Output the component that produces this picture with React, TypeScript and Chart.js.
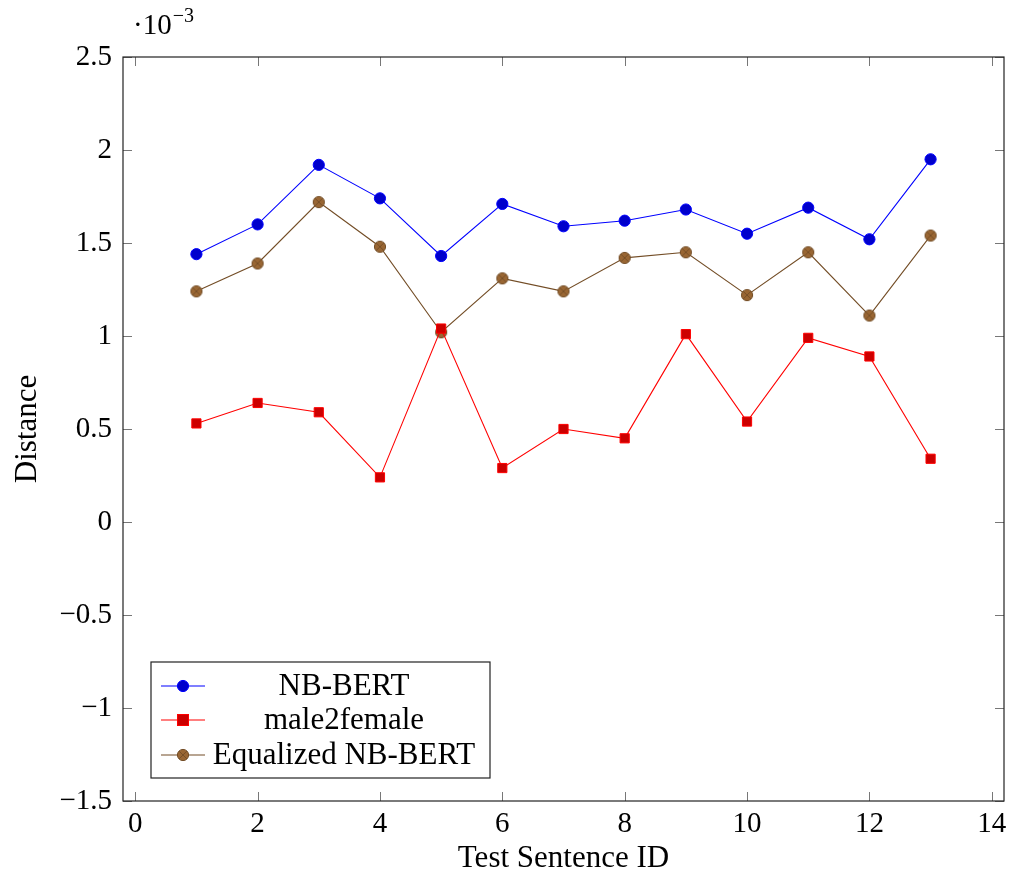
import { useEffect, useRef } from "react";
import { Chart, registerables } from "chart.js";

Chart.register(...registerables);

// Values are in units of 10^-3 (as the axis multiplier shows)
const sentenceIds = [1, 2, 3, 4, 5, 6, 7, 8, 9, 10, 11, 12, 13];
const nbBert = [1.44, 1.6, 1.92, 1.74, 1.43, 1.71, 1.59, 1.62, 1.68, 1.55, 1.69, 1.52, 1.95];
const male2female = [0.53, 0.64, 0.59, 0.24, 1.04, 0.29, 0.5, 0.45, 1.01, 0.54, 0.99, 0.89, 0.34];
const equalizedNbBert = [1.24, 1.39, 1.72, 1.48, 1.02, 1.31, 1.24, 1.42, 1.45, 1.22, 1.45, 1.11, 1.54];
const xTicks = [0, 2, 4, 6, 8, 10, 12, 14];
const yTicks = [-1.5, -1, -0.5, 0, 0.5, 1, 1.5, 2, 2.5];
const seriesNames = ["NB-BERT", "male2female", "Equalized NB-BERT"];
const xTitle = "Test Sentence ID";
const yTitle = "Distance";

const FONT = "'Liberation Serif', 'Times New Roman', serif";
const FS = 29;
const FS_TEXT = 31;

const BLUE = "#0000ff";
const BLUE_FILL = "#0000cc";
const RED = "#ff0000";
const RED_FILL = "#cc0000";
const BROWN = "#734d26";
const BROWN_FILL = "#996633";

function drawOtimes(ctx: CanvasRenderingContext2D, cx: number, cy: number, r: number) {
  ctx.save();
  ctx.beginPath();
  ctx.arc(cx, cy, r, 0, Math.PI * 2);
  ctx.fillStyle = BROWN_FILL;
  ctx.fill();
  ctx.lineWidth = 1;
  ctx.strokeStyle = BROWN;
  ctx.stroke();
  const d = r * 0.707;
  ctx.beginPath();
  ctx.moveTo(cx - d, cy - d);
  ctx.lineTo(cx + d, cy + d);
  ctx.moveTo(cx + d, cy - d);
  ctx.lineTo(cx - d, cy + d);
  ctx.lineWidth = 0.9;
  ctx.stroke();
  ctx.restore();
}

function makeOtimesCanvas(): HTMLCanvasElement {
  const c = document.createElement("canvas");
  c.width = 14;
  c.height = 14;
  const ctx = c.getContext("2d")!;
  drawOtimes(ctx, 7, 7, 5.6);
  return c;
}

function fmt(v: number): string {
  return v < 0 ? "\u2212" + String(Math.abs(v)) : String(v);
}

export default function App() {
  const ref = useRef<HTMLCanvasElement | null>(null);

  useEffect(() => {
    const canvas = ref.current;
    if (!canvas) return;
    const otimes = makeOtimesCanvas();

    const framePlugin = {
      id: "framePlugin",
      afterDraw(chart: any) {
        const ctx = chart.ctx as CanvasRenderingContext2D;
        const ca = chart.chartArea;
        const xs = chart.scales.x;
        const ys = chart.scales.y;
        ctx.save();
        // ticks
        ctx.strokeStyle = "#777";
        ctx.lineWidth = 1;
        const tl = 9;
        ctx.beginPath();
        xTicks.forEach((v) => {
          const px = Math.round(xs.getPixelForValue(v)) + 0.5;
          ctx.moveTo(px, ca.bottom);
          ctx.lineTo(px, ca.bottom - tl);
          ctx.moveTo(px, ca.top);
          ctx.lineTo(px, ca.top + tl);
        });
        yTicks.forEach((v) => {
          const py = Math.round(ys.getPixelForValue(v)) + 0.5;
          ctx.moveTo(ca.left, py);
          ctx.lineTo(ca.left + tl, py);
          ctx.moveTo(ca.right, py);
          ctx.lineTo(ca.right - tl, py);
        });
        ctx.stroke();
        // frame
        ctx.strokeStyle = "#222";
        ctx.lineWidth = 1.2;
        ctx.strokeRect(ca.left, ca.top, ca.right - ca.left, ca.bottom - ca.top);

        // axis titles
        ctx.fillStyle = "#000";
        ctx.font = `${FS_TEXT}px ${FONT}`;
        ctx.textAlign = "center";
        ctx.textBaseline = "middle";
        ctx.fillText(xTitle, (ca.left + ca.right) / 2, 859);
        ctx.save();
        ctx.translate(28, (ca.top + ca.bottom) / 2);
        ctx.rotate(-Math.PI / 2);
        ctx.fillText(yTitle, 0, 0);
        ctx.restore();

        // multiplier
        ctx.textAlign = "left";
        ctx.textBaseline = "alphabetic";
        ctx.font = `${FS}px ${FONT}`;
        ctx.fillText("\u00b710", 133, 34);
        const w = ctx.measureText("\u00b710").width;
        ctx.font = `20px ${FONT}`;
        ctx.fillText("\u22123", 133 + w + 1, 22);

        // legend
        const lx = ca.left + 28;
        const ly = 662;
        const lw = 339;
        const lh = 116;
        ctx.fillStyle = "#fff";
        ctx.fillRect(lx, ly, lw, lh);
        ctx.strokeStyle = "#222";
        ctx.lineWidth = 1.2;
        ctx.strokeRect(lx, ly, lw, lh);
        const rows = [686, 720, 755];
        const colors = [BLUE, RED, BROWN];
        rows.forEach((ry, i) => {
          ctx.strokeStyle = colors[i];
          ctx.lineWidth = 1.1;
          ctx.beginPath();
          ctx.moveTo(lx + 10, ry);
          ctx.lineTo(lx + 54, ry);
          ctx.stroke();
          const mx = lx + 32;
          if (i === 0) {
            ctx.beginPath();
            ctx.arc(mx, ry, 5.6, 0, Math.PI * 2);
            ctx.fillStyle = BLUE_FILL;
            ctx.fill();
            ctx.strokeStyle = BLUE;
            ctx.lineWidth = 1;
            ctx.stroke();
          } else if (i === 1) {
            ctx.fillStyle = RED_FILL;
            ctx.fillRect(mx - 5.5, ry - 5.5, 11, 11);
            ctx.strokeStyle = RED;
            ctx.lineWidth = 1;
            ctx.strokeRect(mx - 5.5, ry - 5.5, 11, 11);
          } else {
            drawOtimes(ctx, mx, ry, 5.6);
          }
          ctx.fillStyle = "#000";
          ctx.font = `${FS_TEXT}px ${FONT}`;
          ctx.textAlign = "center";
          ctx.textBaseline = "middle";
          ctx.fillText(seriesNames[i], lx + 193, ry + 1);
        });
        ctx.restore();
      },
    };

    const mk = (vals: number[]) => sentenceIds.map((x, i) => ({ x, y: vals[i] }));

    const chart = new Chart(canvas, {
      type: "line",
      data: {
        datasets: [
          {
            label: seriesNames[0],
            data: mk(nbBert),
            borderColor: BLUE,
            backgroundColor: BLUE_FILL,
            pointBorderColor: BLUE,
            pointBackgroundColor: BLUE_FILL,
            borderWidth: 1.1,
            pointRadius: 5.6,
            pointBorderWidth: 1,
            pointStyle: "circle",
            tension: 0,
          },
          {
            label: seriesNames[1],
            data: mk(male2female),
            borderColor: RED,
            backgroundColor: RED_FILL,
            pointBorderColor: RED,
            pointBackgroundColor: RED_FILL,
            borderWidth: 1.1,
            pointRadius: 6.5,
            pointBorderWidth: 1,
            pointStyle: "rect",
            tension: 0,
          },
          {
            label: seriesNames[2],
            data: mk(equalizedNbBert),
            borderColor: BROWN,
            backgroundColor: BROWN_FILL,
            borderWidth: 1.1,
            pointRadius: 7,
            pointStyle: otimes as any,
            tension: 0,
          },
        ],
      },
      options: {
        responsive: false,
        animation: false,
        layout: { padding: { left: 0, top: 57, right: 10, bottom: 0 } },
        plugins: {
          legend: { display: false },
          tooltip: { enabled: false },
        },
        scales: {
          x: {
            type: "linear",
            min: -0.2,
            max: 14.2,
            grid: { display: false, drawTicks: false },
            border: { display: false },
            afterBuildTicks: (s: any) => {
              s.ticks = xTicks.map((v) => ({ value: v }));
            },
            afterFit: (s: any) => {
              s.height = 77;
            },
            ticks: {
              autoSkip: false,
              maxRotation: 0,
              padding: 6,
              color: "#000",
              font: { family: FONT, size: FS },
              callback: (v: any) => fmt(Number(v)),
            },
          },
          y: {
            type: "linear",
            min: -1.5,
            max: 2.5,
            grid: { display: false, drawTicks: false },
            border: { display: false },
            afterBuildTicks: (s: any) => {
              s.ticks = yTicks.map((v) => ({ value: v }));
            },
            afterFit: (s: any) => {
              s.width = 123;
            },
            ticks: {
              autoSkip: false,
              padding: 11,
              color: "#000",
              font: { family: FONT, size: FS },
              callback: (v: any) => fmt(Number(v)),
            },
          },
        },
      },
      plugins: [framePlugin],
    });

    return () => chart.destroy();
  }, []);

  return (
    <div style={{ position: "fixed", left: 0, top: 0, width: 1014, height: 878, background: "#fff" }}>
      <canvas ref={ref} width={1014} height={878} />
    </div>
  );
}
